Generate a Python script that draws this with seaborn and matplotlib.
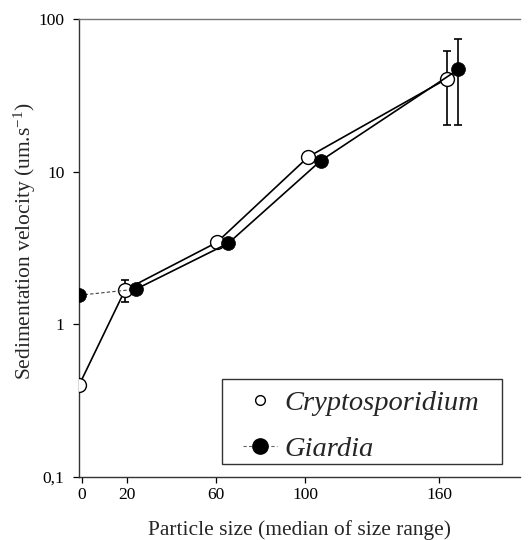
import numpy as np
import pandas as pd
import matplotlib
matplotlib.use("Agg")
import matplotlib.pyplot as plt
from matplotlib.lines import Line2D
from matplotlib.patches import Rectangle
import seaborn as sns

# ---- data ----
crypto_x = [-1.3, 19.3, 60.4, 101.4, 163.5]
crypto_y = [0.40, 1.68, 3.44, 12.5, 40.6]
crypto_err_lo = [np.nan, 1.39, np.nan, np.nan, 20.1]
crypto_err_hi = [np.nan, 1.95, np.nan, np.nan, 61.6]

giardia_x = [-1.3, 24.2, 65.6, 107.0, 168.7]
giardia_y = [1.55, 1.70, 3.40, 11.8, 46.8]
giardia_err_lo = [np.nan, np.nan, np.nan, np.nan, 20.1]
giardia_err_hi = [np.nan, np.nan, np.nan, np.nan, 73.5]

x_ticks = [0, 20, 60, 100, 160]
x_tick_labels = ["0", "20", "60", "100", "160"]
y_ticks = [0.1, 1, 10, 100]
y_tick_labels = ["0,1", "1", "10", "100"]

series_names = ["Cryptosporidium", "Giardia"]
x_label = "Particle size (median of size range)"
y_label = "Sedimentation velocity (um.s$^{\\mathregular{-1}}$)"

sns.set_style("ticks")
plt.rcParams["font.family"] = ["Liberation Serif", "DejaVu Serif"]
plt.rcParams["mathtext.fontset"] = "custom"
plt.rcParams["mathtext.rm"] = "Liberation Serif"
plt.rcParams["mathtext.it"] = "Liberation Serif:italic"

W, H = 528, 540
fig = plt.figure(figsize=(W / 100, H / 100), dpi=100)
ax = fig.add_axes([79 / W, 63 / H, 441 / W, 458 / H])

crypto = pd.DataFrame({"x": crypto_x, "y": crypto_y,
                       "lo": crypto_err_lo, "hi": crypto_err_hi})
giardia = pd.DataFrame({"x": giardia_x, "y": giardia_y,
                        "lo": giardia_err_lo, "hi": giardia_err_hi})

lw = 1.2
ms = 10

# error bars
for df, z in [(crypto, 2), (giardia, 4)]:
    e = df.dropna()
    ax.errorbar(e["x"], e["y"], yerr=[e["y"] - e["lo"], e["hi"] - e["y"]],
                fmt="none", ecolor="black", elinewidth=1.2, capsize=3,
                capthick=1.2, zorder=z)

# Cryptosporidium line (solid throughout)
sns.lineplot(data=crypto, x="x", y="y", ax=ax, color="black", linewidth=lw,
             marker="o", markersize=ms, markerfacecolor="white",
             markeredgecolor="black", markeredgewidth=1.0, zorder=3,
             sort=False, estimator=None)

# Giardia: dashed first segment, solid afterwards
sns.lineplot(data=giardia.iloc[:2], x="x", y="y", ax=ax, color="#444444",
             linewidth=0.8, linestyle=(0, (3, 2)), zorder=4,
             sort=False, estimator=None)
sns.lineplot(data=giardia.iloc[1:], x="x", y="y", ax=ax, color="black",
             linewidth=lw, zorder=4, sort=False, estimator=None)
sns.scatterplot(data=giardia, x="x", y="y", ax=ax, color="black", s=ms ** 2,
                marker="o", edgecolor="black", linewidth=0.5, zorder=5)

ax.set_yscale("log")
ax.set_ylim(0.1, 100)
ax.set_xlim(-1.35, 196.3)
ax.set_xticks(x_ticks)
ax.set_xticklabels(x_tick_labels)
ax.set_yticks(y_ticks)
ax.set_yticklabels(y_tick_labels)
ax.yaxis.set_minor_locator(matplotlib.ticker.NullLocator())

ax.tick_params(axis="both", direction="out", length=4.5, width=0.9,
               labelsize=12.5, colors="black")
ax.tick_params(axis="y", pad=6)
ax.tick_params(axis="x", pad=3)
ax.set_xlabel(x_label, fontsize=15.5, labelpad=12)
ax.set_ylabel(y_label, fontsize=15.5)
ax.yaxis.set_label_coords(-0.094, 0.515)

for side in ["left", "bottom"]:
    ax.spines[side].set_color("#333333")
    ax.spines[side].set_linewidth(1.0)
ax.spines["top"].set_color("#777777")
ax.spines["top"].set_linewidth(1.0)
ax.spines["right"].set_visible(False)

# legend frame (square box)
box = Rectangle((222 / W, 1 - 464 / H), 280 / W, 85 / H,
                transform=fig.transFigure, facecolor="white",
                edgecolor="#333333", linewidth=1.0, zorder=6, clip_on=False)
ax.add_patch(box)

handles = [
    Line2D([], [], linestyle="none", marker="o", markersize=7,
           markerfacecolor="white", markeredgecolor="black",
           markeredgewidth=1.0),
    Line2D([], [], linestyle=(0, (3, 2)), color="#666666", linewidth=0.8,
           marker="o", markersize=11, markerfacecolor="black",
           markeredgecolor="black"),
]
leg = ax.legend(handles, series_names, loc="center left",
                bbox_to_anchor=(243 / W, 1 - 426 / H),
                bbox_transform=fig.transFigure, borderaxespad=0,
                prop={"family": "Liberation Serif", "style": "italic",
                      "size": 20.5},
                frameon=False, handlelength=1.2,
                handletextpad=0.25, borderpad=0, labelspacing=0.68)
leg.set_zorder(7)

fig.savefig("out.png", dpi=100, facecolor="white")
